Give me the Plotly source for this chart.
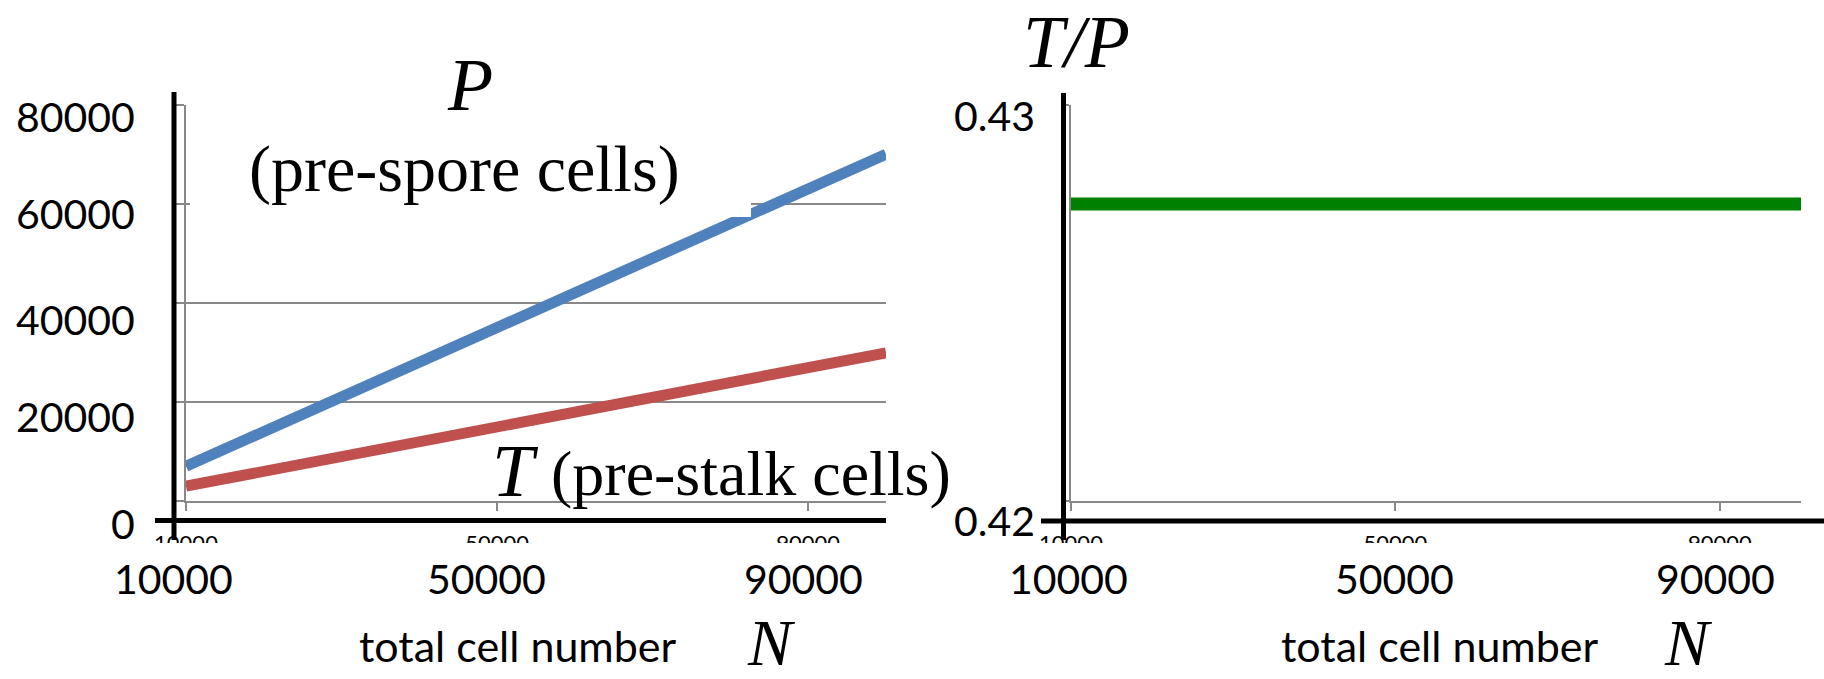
import plotly.graph_objects as go

# ---- data ----
N = [10000, 20000, 30000, 40000, 50000, 60000, 70000, 80000, 90000, 100000]
P = [7010, 14010, 21020, 28030, 35030, 42040, 49050, 56050, 63060, 70070]
T = [2990, 5990, 8980, 11970, 14970, 17960, 20950, 23950, 26940, 29930]
RATIO = [0.4275, 0.4275, 0.4275, 0.4275, 0.4275, 0.4275, 0.4275, 0.4275, 0.4275, 0.4275]

X_TICKS = [10000, 50000, 90000]
Y_TICKS_LEFT = [0, 20000, 40000, 60000, 80000]
Y_TICKS_RIGHT = [0.42, 0.43]
X_LABELS = ["10000", "50000", "90000"]
Y_LABELS_LEFT = ["80000", "60000", "40000", "20000", "0"]
Y_LABELS_RIGHT = ["0.43", "0.42"]

W, H = 1824, 679


def px(x):
    return x / W


def py(y):
    return 1 - y / H


GRID = "#888888"
SANS = "Lato"
SERIF = "Liberation Serif"

fig = go.Figure()
fig.add_trace(go.Scatter(x=N, y=P, mode="lines", line=dict(color="#4F81BD", width=11),
                         xaxis="x", yaxis="y", showlegend=False, hoverinfo="skip"))
fig.add_trace(go.Scatter(x=N, y=T, mode="lines", line=dict(color="#C0504D", width=11),
                         xaxis="x", yaxis="y", showlegend=False, hoverinfo="skip"))
fig.add_trace(go.Scatter(x=N, y=RATIO, mode="lines", line=dict(color="#008000", width=13),
                         xaxis="x2", yaxis="y2", showlegend=False, hoverinfo="skip"))

xcommon = dict(range=[10000, 100000], tickvals=X_TICKS, ticktext=X_LABELS, ticks="outside",
               ticklen=8, tickwidth=2, tickcolor=GRID, showline=True, linecolor=GRID, linewidth=2,
               showgrid=False, zeroline=False, tickfont=dict(family=SANS, size=22, color="black"),
               ticklabelstandoff=14, automargin=False)
ycommon = dict(ticks="outside", ticklen=8, tickwidth=2, tickcolor=GRID, showline=True,
               linecolor=GRID, linewidth=2, showgrid=True, gridcolor=GRID, gridwidth=2,
               zeroline=False, showticklabels=False, automargin=False)

fig.update_layout(
    width=W, height=H, margin=dict(l=0, r=0, t=0, b=0, pad=0, autoexpand=False),
    paper_bgcolor="white", plot_bgcolor="white",
    xaxis=dict(domain=[px(186), px(886)], anchor="y", **xcommon),
    yaxis=dict(domain=[py(501), py(105)], anchor="x", range=[0, 80000], tickvals=Y_TICKS_LEFT, **ycommon),
    xaxis2=dict(domain=[px(1071), px(1801)], anchor="y2", **xcommon),
    yaxis2=dict(domain=[py(501), py(105)], anchor="x2", range=[0.42, 0.43], tickvals=Y_TICKS_RIGHT, **ycommon),
)

shapes = []
# white text-box background covering part of the left chart
shapes.append(dict(type="rect", xref="paper", yref="paper", x0=px(190), x1=px(751), y0=py(217), y1=py(40),
                   fillcolor="white", line=dict(width=0), layer="above"))
# white cover cutting the small tick labels
shapes.append(dict(type="rect", xref="paper", yref="paper", x0=0, x1=1, y0=0, y1=py(543),
                   fillcolor="white", line=dict(width=0), layer="above"))
# thick black axes
for x, y0, y1 in [(174, 92, 540), (1063.5, 93, 540)]:
    shapes.append(dict(type="line", xref="paper", yref="paper", x0=px(x), x1=px(x), y0=py(y1), y1=py(y0),
                       line=dict(color="black", width=5), layer="above"))
for y, x0, x1 in [(520.5, 155, 886), (521, 1041, 1824)]:
    shapes.append(dict(type="line", xref="paper", yref="paper", x0=px(x0), x1=px(x1), y0=py(y), y1=py(y),
                       line=dict(color="black", width=5), layer="above"))
fig.update_layout(shapes=shapes)

ann = []


def text(t, x, y, size, family=SANS, xanchor="center", italic=False):
    ann.append(dict(text=t, x=px(x), y=py(y), xref="paper", yref="paper", showarrow=False,
                    xanchor=xanchor, yanchor="middle",
                    font=dict(family=family, size=size, color="black",
                              style="italic" if italic else "normal")))


# big y labels
for lab, yc in zip(Y_LABELS_LEFT, [116, 213, 319, 416, 523]):
    text(lab, 137, yc, 41, xanchor="right")
for lab, yc in zip(Y_LABELS_RIGHT, [115, 520]):
    text(lab, 1037, yc, 41, xanchor="right")
# big x labels
for lab, xc in zip(X_LABELS, [173, 487, 803]):
    text(lab, xc, 578, 41)
for lab, xc in zip(X_LABELS, [1068, 1394, 1715]):
    text(lab, xc, 578, 41)
# axis titles
text("total cell number", 518, 645, 43)
text("total cell number", 1440, 645, 43)
text("N", 771, 642, 66, family=SERIF, italic=True)
text("N", 1688, 642, 66, family=SERIF, italic=True)
# series labels
text("P", 470, 85, 74, family=SERIF, italic=True)
text("(pre-spore cells)", 465, 169, 66, family=SERIF)
text("T", 515, 470, 75, family=SERIF, italic=True)
text("(pre-stalk cells)", 549, 473, 64, family=SERIF, xanchor="left")
text("T/P", 1076, 42, 74, family=SERIF, italic=True)
fig.update_layout(annotations=ann)

fig.write_html("out.html", config={"displayModeBar": False},
               post_script="document.body.style.margin='0px';")
